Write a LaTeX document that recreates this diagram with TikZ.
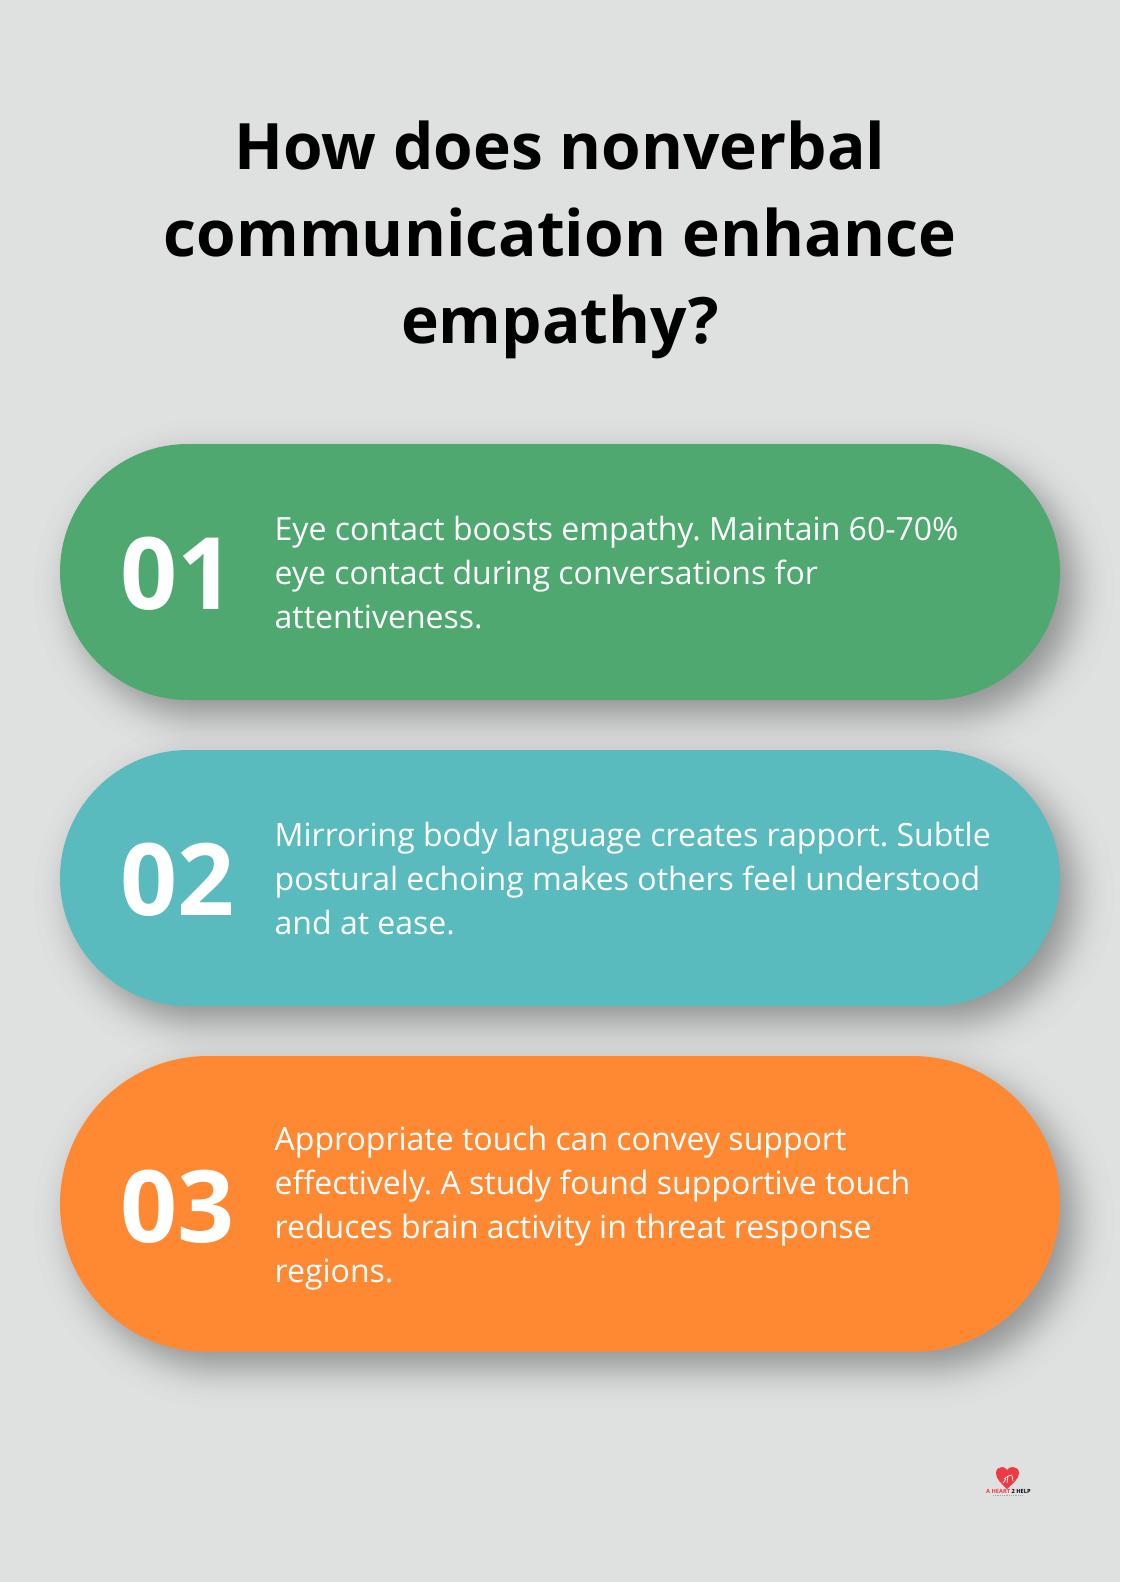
\documentclass[tikz,border=0pt]{standalone}
\usepackage{fontspec}
\setmainfont{Open Sans}
\frenchspacing
\usetikzlibrary{calc}
\definecolor{bgc}{HTML}{DFE1E0}
\definecolor{pgreen}{HTML}{4FA870}
\definecolor{pteal}{HTML}{5ABBBE}
\definecolor{porange}{HTML}{FF8833}
\definecolor{lred}{HTML}{EE3A42}
\newcommand{\pillshape}[6]{% x0,y0,x1,y1,radius,options
  \pgfmathsetmacro{\rr}{#5}
  \fill[#6,rounded corners=\rr pt] (#1,#2) rectangle (#3,#4);
}
\newcommand{\pillshadow}[4]{%
  \foreach \s in {1,...,40}{%
    \pgfmathsetmacro{\pp}{(\s-0.5)/40}
    \pgfmathsetmacro{\d}{18*4.91*(pow(\pp,0.14)-pow(1-\pp,0.14))}
    \pgfmathsetmacro{\ra}{max(2,(#4-#2)/2+\d)}
    \fill[black,opacity=0.0085,rounded corners=\ra pt]
      ({#1+14-\d},{#2+16-\d}) rectangle ({#3+14+\d},{#4+16+\d});
  }%
}
\tikzset{
  title/.style={font=\fontsize{64}{87}\selectfont\bfseries,align=center,text=black,anchor=north,inner sep=0pt},
  numlabel/.style={font=\fontsize{100}{100}\selectfont\bfseries,text=white,anchor=base west,inner sep=0pt},
  bodytext/.style={font=\fontsize{32}{44}\selectfont,text=white,align=left,anchor=west,inner sep=0pt},
  logotext/.style={font=\fontsize{5.7}{6}\selectfont\bfseries,inner sep=0pt,anchor=base west},
}
\begin{document}
\begin{tikzpicture}[x=1pt,y=-1pt]
\useasboundingbox (0,0) rectangle (1120,1582);
\fill[bgc] (0,0) rectangle (1120,1582);

\node[title] (heading) at (560,120.5) {How does nonverbal\\communication enhance\\empathy?};

\pillshadow{60}{444}{1060}{700}
\pillshadow{60}{750}{1060}{1006}
\pillshadow{60}{1056}{1060}{1352}
\pillshape{60}{444}{1060}{700}{128}{pgreen}
\pillshape{60}{750}{1060}{1006}{128}{pteal}
\pillshape{60}{1056}{1060}{1352}{148}{porange}

\node[numlabel] (n1) at (120,609.5) {01};
\node[numlabel] (n2) at (120,915.5) {02};
\node[numlabel] (n3) at (120,1242.5) {03};

\node[bodytext] (t1) at (274.5,573) {Eye contact boosts empathy. Maintain 60-70\%\\eye contact during conversations for\\attentiveness.};
\node[bodytext] (t2) at (274.5,879) {Mirroring body language creates rapport. Subtle\\postural echoing makes others feel understood\\and at ease.};
\node[bodytext] (t3) at (274.5,1208) {Appropriate touch can convey support\\effectively. A study found supportive touch\\reduces brain activity in threat response\\regions.};

% logo
\fill[lred] (1007,1489) .. controls (1001,1483) and (996,1479) .. (996,1473)
  .. controls (996,1469) and (999,1467) .. (1002,1467)
  .. controls (1004,1467) and (1006,1468) .. (1007,1470)
  .. controls (1008,1468) and (1010,1467) .. (1013,1467)
  .. controls (1016,1467) and (1019,1469) .. (1019,1473)
  .. controls (1019,1479) and (1013,1483) .. (1007,1489) -- cycle;
\draw[white,line width=0.7pt] (1004,1479) -- (1008,1476) -- (1012,1475) (1008,1476) -- (1007,1483) (1012,1476) -- (1013,1481) (1003,1483) -- (1006,1479);
\node[logotext] (logoa) at (986,1493) {\textcolor{lred}{A HEART} \textcolor{black}{2 HELP}};
\draw[gray!70,line width=0.9pt,dash pattern=on 1pt off 0.8pt] (993,1495.5) -- (1022,1495.5);
\end{tikzpicture}
\end{document}
